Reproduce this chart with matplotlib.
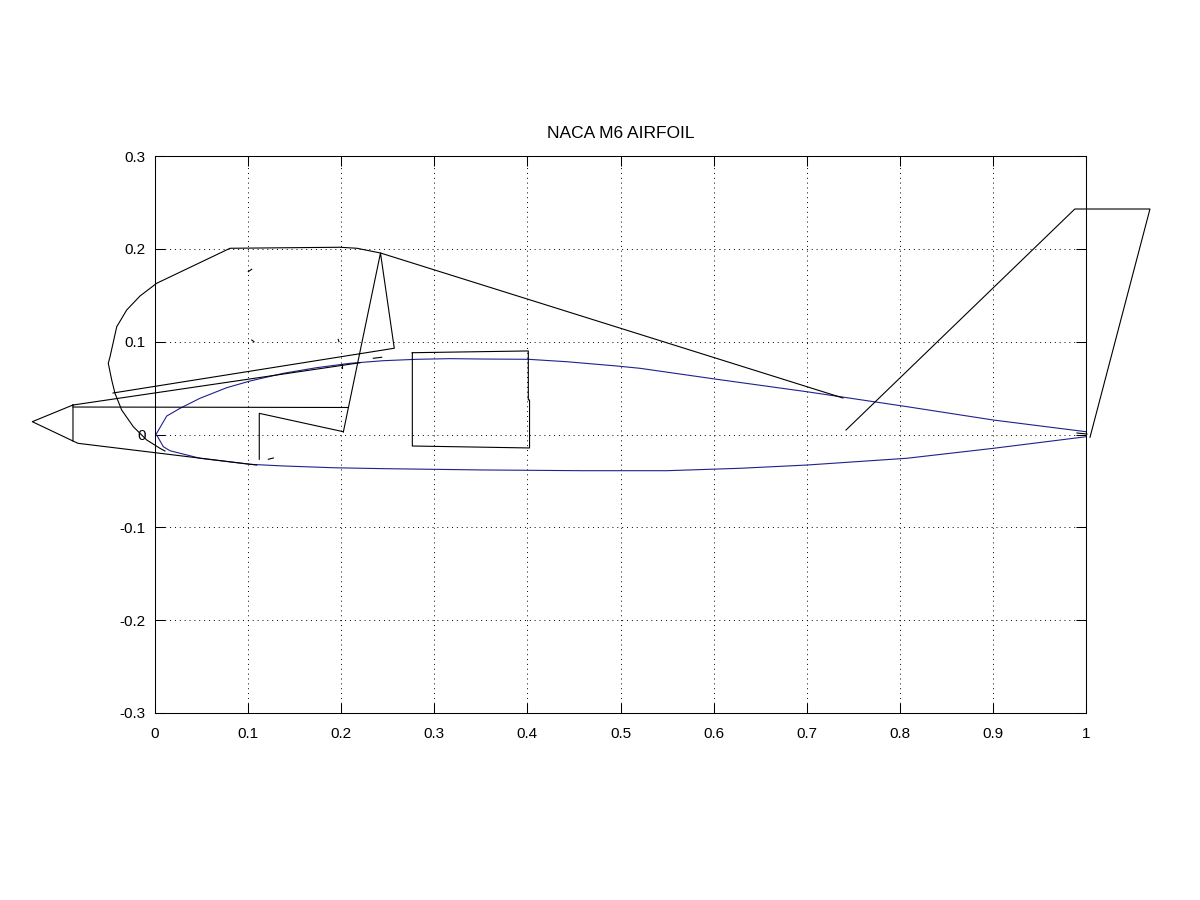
import matplotlib
matplotlib.use("Agg")
import matplotlib.pyplot as plt
import numpy as np

plt.rcParams["font.family"] = ["Liberation Sans", "DejaVu Sans"]

# airfoil section (blue)
upper_x = [0.0, 0.0018, 0.0126, 0.0269, 0.0483, 0.077, 0.102, 0.1378, 0.1737, 0.2095, 0.2452,
           0.2811, 0.3169, 0.3526, 0.401, 0.4422, 0.4959, 0.521, 0.6033, 0.70, 0.8076, 0.9004, 1.0]
upper_y = [0.0, 0.0013, 0.0199, 0.0282, 0.039, 0.0504, 0.0576, 0.0659, 0.072, 0.0767, 0.0795,
           0.081, 0.0817, 0.0813, 0.081, 0.0784, 0.0738, 0.0713, 0.0595, 0.0461, 0.030, 0.0156, 0.003]
lower_x = [0.0, 0.0018, 0.0089, 0.0161, 0.0483, 0.102, 0.1378, 0.1915, 0.2452, 0.3526, 0.46,
           0.5496, 0.6284, 0.70, 0.8076, 0.9004, 1.0]
lower_y = [0.0, -0.0005, -0.0131, -0.0175, -0.0256, -0.0321, -0.0339, -0.0358, -0.0368, -0.0382,
           -0.039, -0.039, -0.0364, -0.0329, -0.0256, -0.0149, -0.0024]

# aircraft sketch (black), traced over the section
nose_x = [-0.0881, -0.1318, -0.0881, -0.0881]
nose_y = [0.0318, 0.0138, -0.0070, 0.0318]

fus_top_x = [-0.0881, 0.2077]
fus_top_y = [0.0296, 0.0291]

fus_bot_x = [-0.0881, -0.0827, 0.1092]
fus_bot_y = [-0.0070, -0.0095, -0.0329]

strake_lo_x = [-0.0878, 0.2202]
strake_lo_y = [0.0318, 0.0773]

frame_x = [-0.0451, 0.257, 0.2422, 0.2023]
frame_y = [0.0447, 0.0929, 0.1955, 0.0027]

canopy_x = [0.0107, 0.0054, -0.0089, -0.0233, -0.0358, -0.043, -0.0465, -0.0502, -0.0483,
            -0.0411, -0.0304, -0.0161, 0.0018, 0.0806, 0.1987, 0.217, 0.2422, 0.739]
canopy_y = [-0.0178, -0.0149, -0.0059, 0.0084, 0.0264, 0.0444, 0.0587, 0.0767, 0.0838,
            0.1161, 0.1341, 0.1492, 0.1629, 0.2006, 0.2017, 0.2006, 0.1955, 0.0393]

hook_x = [0.112, 0.112, 0.2023]
hook_y = [-0.0267, 0.0228, 0.003]

box_x = [0.2764, 0.401, 0.401, 0.4023, 0.4023, 0.2764, 0.2764]
box_y = [0.0881, 0.090, 0.0372, 0.0372, -0.0145, -0.0124, 0.0881]

tail_x = [0.7422, 0.988, 1.0687, 1.0043]
tail_y = [0.0048, 0.2429, 0.2429, -0.003]

te_x = [0.9903, 1.001]
te_y = [0.0016, 0.0005]

# stray short strokes
bits_x = [[0.1002, 0.1039], [0.1039, 0.1063], [0.1968, 0.1976], [0.2345, 0.2435],
          [0.2005, 0.2005], [0.1217, 0.1271]]
bits_y = [[0.1754, 0.178], [0.1018, 0.100], [0.1025, 0.100], [0.0821, 0.0832],
          [0.0760, 0.0714], [-0.0267, -0.0253]]

x_ticks = np.round(np.arange(0, 1.01, 0.1), 1)
y_ticks = np.round(np.arange(-0.3, 0.31, 0.1), 1)
x_labels = ["0", "0.1", "0.2", "0.3", "0.4", "0.5", "0.6", "0.7", "0.8", "0.9", "1"]
y_labels = ["-0.3", "-0.2", "-0.1", "0", "0.1", "0.2", "0.3"]

fig = plt.figure(figsize=(12, 9), dpi=100)
ax = fig.add_axes([155 / 1200, 1 - 713 / 900, (1086 - 155) / 1200, (713 - 156) / 900])

blue = "#20208f"
ax.plot(upper_x, upper_y, color=blue, lw=0.8)
ax.plot(lower_x, lower_y, color=blue, lw=0.8)

lw = 0.8
for xs, ys in [(nose_x, nose_y), (fus_top_x, fus_top_y), (fus_bot_x, fus_bot_y),
               (strake_lo_x, strake_lo_y), (frame_x, frame_y), (canopy_x, canopy_y),
               (hook_x, hook_y), (box_x, box_y), (tail_x, tail_y), (te_x, te_y)]:
    ax.plot(xs, ys, color="k", lw=lw, clip_on=False)
for xs, ys in zip(bits_x, bits_y):
    ax.plot(xs, ys, color="k", lw=lw, clip_on=False)

ax.set_xlim(0, 1)
ax.set_ylim(-0.3, 0.3)
ax.set_xticks(x_ticks)
ax.set_xticklabels(x_labels)
ax.set_yticks(y_ticks)
ax.set_yticklabels(y_labels)
ax.tick_params(direction="in", length=7, width=0.75, top=True, right=True, labelsize=11)
ax.tick_params(axis="x", pad=10)
ax.tick_params(axis="y", pad=6.5)
ax.grid(True, color="k", linestyle=(0, (1, 4)), lw=0.7)
for s in ax.spines.values():
    s.set_linewidth(0.75)
ax.set_title("NACA M6 AIRFOIL", fontsize=12.5, pad=13)

fig.savefig("out.png", dpi=100)
